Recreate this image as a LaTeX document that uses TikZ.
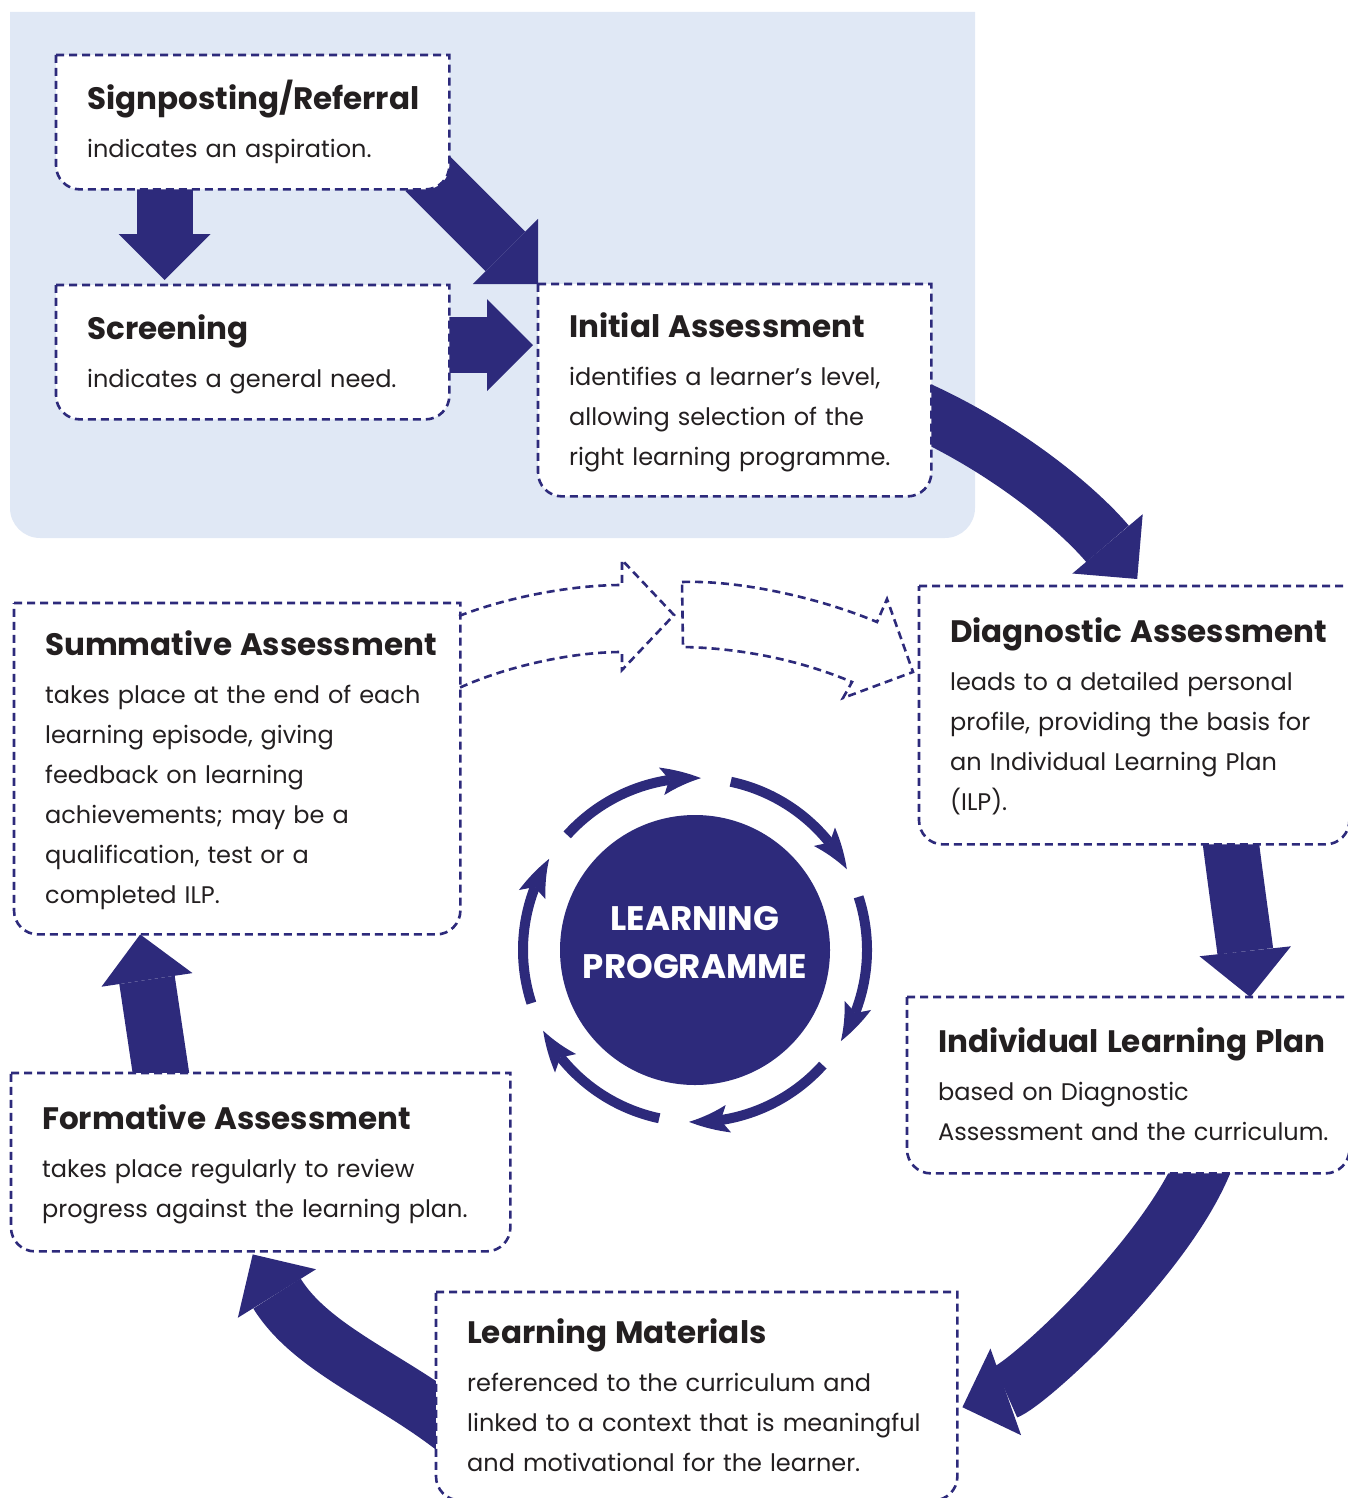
\documentclass[tikz,border=0pt]{standalone}
\usepackage{fontspec}
\setmainfont{Poppins}
\usepackage{tikz}
\usetikzlibrary{arrows.meta,bending}
\pgfdeclarelayer{back}
\pgfdeclarelayer{bg}
\pgfsetlayers{back,bg,main}

\definecolor{navy}{HTML}{2D2A7B}
\definecolor{panelblue}{HTML}{E0E8F5}
\definecolor{ink}{HTML}{231F20}

\newcommand{\stagetext}[2]{\begin{tabular}{@{}l@{}}\rule{0pt}{34pt}{\fontsize{31}{40}\selectfont\bfseries #1}\\[8pt] #2\end{tabular}}

\begin{document}
\begin{tikzpicture}[
		x = 1pt, y = -1pt,
		stage/.style = {anchor=north west, inner xsep=31pt, inner ysep=0pt, align=left,
			text=ink, font=\fontsize{24}{40}\selectfont},
		boxline/.style = {draw=navy, fill=white, line width=2.6pt, dash pattern=on 8pt off 5pt},
		bigarrow/.style = {navy, line width=56pt, -{Triangle[length=46pt,width=92pt,line width=0pt,quick]}},
		ringarrow/.style = {navy, line width=10pt, -{Stealth[length=40pt,width=28pt,inset=8pt,line width=0pt,bend]}},
		openarrow/.style = {navy, line width=2.6pt, dash pattern=on 8pt off 5pt, line join=miter}
	]
	\useasboundingbox (0,0) rectangle (1347,1498);

	\begin{pgfonlayer}{back}
		\fill[panelblue] (10,12) -- (975,12) -- (975,508) arc[start angle=0,end angle=-90,radius=30pt]
			-- (40,538) arc[start angle=270,end angle=180,radius=30pt] -- cycle;
	\end{pgfonlayer}

	% stages
	\node[stage, text width=331pt, minimum height=134pt] (sign) at (56,55)
		{\stagetext{Signposting/Referral}{indicates an aspiration.}};
	\node[stage, text width=331pt, minimum height=134pt] (screen) at (56,285)
		{\stagetext{Screening}{indicates a general need.}};
	\node[stage, text width=331pt, minimum height=212pt] (init) at (538,284)
		{\stagetext{Initial Assessment}{identifies a learner's level,\\allowing selection of the\\right learning programme.}};
	\node[stage, text width=368pt, minimum height=258pt] (diag) at (919,586)
		{\stagetext{Diagnostic Assessment}{leads to a detailed personal\\profile, providing the basis for\\an Individual Learning Plan\\(ILP).}};
	\node[stage, text width=380pt, minimum height=176pt] (ilp) at (907,997)
		{\stagetext{Individual Learning Plan}{based on Diagnostic\\Assessment and the curriculum.}};
	\node[stage, text width=459pt, minimum height=208pt] (lm) at (436,1292)
		{\stagetext{Learning Materials}{referenced to the curriculum and\\linked to a context that is meaningful\\and motivational for the learner.}};
	\node[stage, text width=437pt, minimum height=178pt] (form) at (11,1073)
		{\stagetext{Formative Assessment}{takes place regularly to review\\progress against the learning plan.}};
	\node[stage, text width=384pt, minimum height=331pt] (summ) at (14,603)
		{\stagetext{Summative Assessment}{takes place at the end of each\\learning episode, giving\\feedback on learning\\achievements; may be a\\qualification, test or a\\completed ILP.}};

	% centre
	\node[circle, fill=navy, minimum size=270pt, inner sep=0pt, text=white, align=center,
		font=\fontsize{34}{48}\selectfont\bfseries, text depth=16pt] (lp) at (695,950) {LEARNING\\PROGRAMME};
	\foreach \a in {138,78,18,-42,-102,-162}
		\draw[ringarrow] ([shift={(\a:172pt)}]lp.center) arc[start angle=\a,end angle=\a-50,radius=172pt];

	\begin{pgfonlayer}{bg}
		\draw[bigarrow] ([xshift=-88pt]sign.south) -- ([xshift=-88pt,yshift=5pt]screen.north);
		\draw[bigarrow] ([shift={(-24pt,18pt)}]sign.south east) -- (init.north west);
		\draw[bigarrow] ([yshift=7pt]screen.east) -- ([shift={(-5pt,45pt)}]init.west);
		\draw[bigarrow] ([shift={(-29pt,-12pt)}]init.east) .. controls (1004,445) and (1079,510) .. ([shift={(3pt,7pt)}]diag.north);
		\draw[bigarrow] ([shift={(95pt,14pt)}]diag.south) .. controls (1238,900) and (1244,940) .. ([xshift=122pt]ilp.north);
		\draw[bigarrow] ([shift={(77pt,13pt)}]ilp.south) .. controls (1167,1257) and (1028,1384) .. ([shift={(5pt,-11pt)}]lm.east);
		\draw[bigarrow] ([shift={(23pt,-36pt)}]lm.west) .. controls (393,1379) and (312,1350) .. ([shift={(-8pt,-3pt)}]form.south);
		\draw[bigarrow] ([shift={(-98pt,-12pt)}]form.north) -- ([xshift=-97pt]summ.south);

		% outlines over the arrows
		\foreach \n in {sign,screen,init,diag,ilp,lm,form,summ}
			\draw[boxline] (\n.north west) -- (\n.north east) -- ([yshift=24pt]\n.south east)
				arc[start angle=0,end angle=-90,radius=24pt] -- ([xshift=24pt]\n.south west)
				arc[start angle=270,end angle=180,radius=24pt] -- cycle;
	\end{pgfonlayer}

	% open dashed arrows summative -> diagnostic
	\draw[openarrow] (459,616) .. controls (505,598) and (570,585) .. (622,585) -- (622,560) -- (674,615)
		-- (622,670) -- (622,652) .. controls (570,652) and (505,667) .. (459,688);
	\draw[openarrow] (682,582) .. controls (740,580) and (820,598) .. (877,622) -- (887,599) -- (913,672)
		-- (843,698) -- (852,682) .. controls (800,660) and (740,648) .. (683,647) -- cycle;
\end{tikzpicture}
\end{document}
